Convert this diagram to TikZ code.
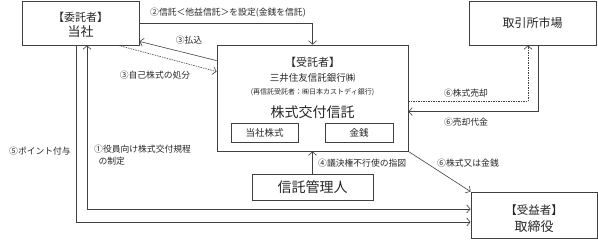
\documentclass[tikz,border=0pt]{standalone}
\usepackage{fontspec}
\setmainfont{Noto Sans CJK JP}
\usetikzlibrary{arrows.meta,positioning}

\begin{document}
\begin{tikzpicture}[x=1pt,y=-1pt,
      >={Straight Barb[length=3.5pt,width=8pt]},
      box/.style={draw=black!75, line width=0.8pt, inner sep=0pt, text=black!85},
      conn/.style={draw=black!75, line width=0.6pt},
      dotconn/.style={conn, dash pattern=on 1.5pt off 1pt},
      lbl/.style={font=\fontsize{8.8}{10}\selectfont, text=black!85, inner sep=0pt}
    ]
    \useasboundingbox (0,0) rectangle (598,239);
    % boxes
    \node[box, minimum width=117pt, minimum height=44pt] (settlor) at (80.5,23) {};
    \node[font=\fontsize{11}{11}\selectfont, text=black!85] (settlorrole) at (80.5,17) {【委託者】};
    \node[font=\fontsize{13}{13}\selectfont, text=black!85] (settlorname) at (80.5,32) {当社};
    \node[box, minimum width=127pt, minimum height=44pt, font=\fontsize{12}{12}\selectfont] (market) at (532.5,23) {取引所市場};
    \node[box, minimum width=191pt, minimum height=106pt] (trustee) at (312.5,98) {};
    \node[font=\fontsize{11}{11}\selectfont, text=black!85] (trusteerole) at (312.5,62) {【受託者】};
    \node[font=\fontsize{9.5}{10}\selectfont, text=black!85] (trusteebank) at (312.5,78) {三井住友信託銀行㈱};
    \node[font=\fontsize{7}{8}\selectfont, text=black!85] (trusteesub) at (312.5,92) {(再信託受託者：㈱日本カストディ銀行)};
    \node[font=\fontsize{14}{14}\selectfont, text=black!85] (trustname) at (312.5,112) {株式交付信託};
    \node[box, minimum width=67pt, minimum height=19pt, font=\fontsize{9.5}{10}\selectfont] (shares) at (264.5,132.5) {当社株式};
    \node[box, minimum width=68pt, minimum height=19pt, font=\fontsize{9.5}{10}\selectfont] (cash) at (359,132.5) {金銭};
    \node[box, minimum width=121pt, minimum height=26pt, font=\fontsize{14}{14}\selectfont] (admin) at (312.5,187) {信託管理人};
    \node[box, minimum width=126pt, minimum height=46pt] (director) at (534,215) {};
    \node[font=\fontsize{11.5}{12}\selectfont, text=black!85] (directorrole) at (534,210) {【受益者】};
    \node[font=\fontsize{13}{13}\selectfont, text=black!85] (directorname) at (534,227) {取締役};
    % connectors
    \draw[conn, ->] (settlor.east) -| (trustee.north);
    \draw[conn, ->] ([yshift=-16pt]trustee.north west) -- ([yshift=4pt]settlor.south east);
    \draw[dotconn, ->] ([xshift=-21pt]settlor.south east) -- ([yshift=-27pt]trustee.north west);
    \draw[conn, <->] ([xshift=6.5pt]settlor.south) |- ([yshift=6pt]director.west);
    \draw[conn, ->] ([xshift=-4.5pt]settlor.south) |- ([yshift=-7pt]director.west);
    \draw[conn, ->] (admin.north) -- (trustee.south);
    \draw[dotconn, ->] ([yshift=-57pt]trustee.north east) -| ([xshift=-4.5pt]market.south);
    \draw[conn, ->] ([xshift=5.5pt]market.south) |- ([yshift=-67pt]trustee.north east);
    \draw[conn, ->] (trustee.south east) -- (director.north west);
    % labels
    \node[lbl] (trustlbl) at (228,13) {②信託＜他益信託＞を設定(金銭を信託)};
    \node[lbl] (paylbl) at (189,40) {③払込};
    \node[lbl] (disposelbl) at (155,75) {③自己株式の処分};
    \node[lbl, anchor=east] (pointlbl) at (71,151) {⑤ポイント付与};
    \node[lbl, anchor=north west, align=left] (rulelbl) at (94,145) {①役員向け株式交付規程\\[2pt]\hspace{0.5em}の制定};
    \node[lbl, anchor=west] (votelbl) at (318,163) {④議決権不行使の指図};
    \node[lbl] (selllbl) at (466,93) {⑥株式売却};
    \node[lbl] (proceedslbl) at (466,122) {⑥売却代金};
    \node[lbl] (paidlbl) at (468,163) {⑥株式又は金銭};
  \end{tikzpicture}
\end{document}
